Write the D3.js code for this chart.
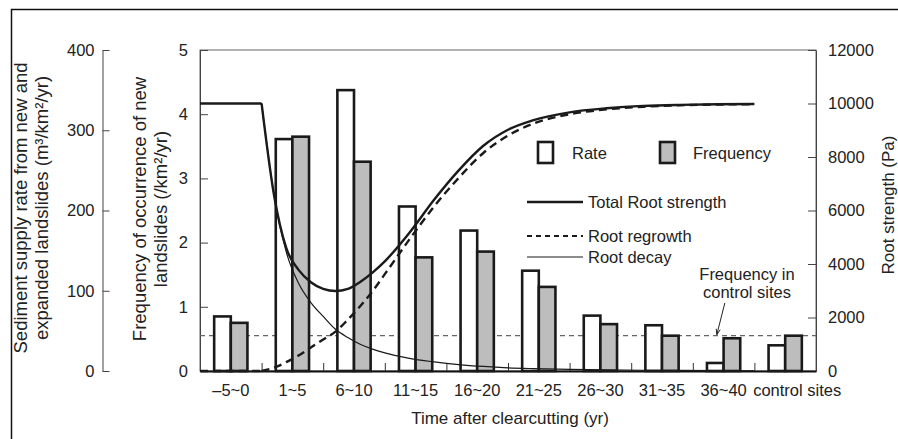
<!DOCTYPE html>
<html>
<head>
<meta charset="utf-8">
<script src="https://cdn.jsdelivr.net/npm/d3@7"></script>
<style>
  body { margin: 0; background: #fff; }
  svg text { font-family: "Liberation Sans", Arial, sans-serif; fill: #222; }
</style>
</head>
<body>
<div id="chart_div"></div>
<script>
/*****************************************************
 * Landslides after clearcutting vs. root strength   *
 *****************************************************/

/*
 * Data
 */
var categories = ['\u20135~0', '1~5', '6~10', '11~15', '16~20', '21~25', '26~30', '31~35', '36~40', 'control sites'];
// sediment supply rate (m3/km2/yr), white bars
var rateValues = [68, 289, 350, 205, 175, 125, 69, 57, 10, 32];
// frequency of new landslides (/km2/yr), grey bars
var frequencyValues = [0.75, 3.65, 3.26, 1.77, 1.86, 1.31, 0.73, 0.55, 0.51, 0.55];
var controlFrequency = 0.55;

// root strength curves (Pa) against years after clearcutting
var rootYears = [-5, 0, 1, 2, 3, 4, 5, 6, 7, 8, 9, 10, 12, 14, 16, 18, 20, 22, 25, 28, 31, 34, 37, 40];
var totalStrength = [10000, 10000, 6600, 4600, 3780, 3320, 3070, 2990, 3070, 3330, 3680, 4100, 5170, 6400, 7500, 8420, 9020, 9370, 9670, 9820, 9910, 9950, 9970, 9980];
var regrowthStrength = [0, 0, 120, 330, 580, 880, 1180, 1470, 1920, 2420, 2980, 3620, 4920, 6150, 7220, 8150, 8800, 9240, 9600, 9780, 9880, 9935, 9960, 9975];
var decayStrength = [10000, 10000, 6600, 4450, 3280, 2560, 2040, 1560, 1250, 1000, 820, 680, 470, 340, 240, 170, 120, 90, 60, 40, 28, 20, 14, 10];

var sedimentTicks = [0, 100, 200, 300, 400];
var frequencyTicks = [0, 1, 2, 3, 4, 5];
var rootTicks = [0, 2000, 4000, 6000, 8000, 10000, 12000];

/*
 * Layout
 */
var gvWidth = 898, gvHeight = 439;
var gvPlot = { left: 200, right: 816, top: 50, bottom: 371 };

var svg = d3.select('#chart_div').append('svg')
  .attr('width', gvWidth)
  .attr('height', gvHeight);

// outer border of the figure (top and left only)
svg.append('path')
  .attr('d', 'M11.5,439 L11.5,9.5 L898,9.5')
  .attr('fill', 'none')
  .attr('stroke', '#111')
  .attr('stroke-width', 1.5);

/*
 * Scales
 */
var xBand = d3.scaleBand().domain(categories).range([gvPlot.left, gvPlot.right]).padding(0);
var xYear = d3.scaleLinear().domain([-5, 45]).range([gvPlot.left, gvPlot.right]);
var yFreq = d3.scaleLinear().domain([0, 5]).range([gvPlot.bottom, gvPlot.top]);
var ySed = d3.scaleLinear().domain([0, 400]).range([gvPlot.bottom, gvPlot.top]);
var yRoot = d3.scaleLinear().domain([0, 12000]).range([gvPlot.bottom, gvPlot.top]);

// plot frame
svg.append('rect')
  .attr('x', gvPlot.left).attr('y', gvPlot.top)
  .attr('width', gvPlot.right - gvPlot.left)
  .attr('height', gvPlot.bottom - gvPlot.top)
  .attr('fill', 'none')
  .attr('stroke', '#666')
  .attr('stroke-width', 1);

/*
 * Axes
 */
function styleAxis(g, colour) {
  g.selectAll('.domain').attr('stroke', colour);
  g.selectAll('.tick line').attr('stroke', colour);
  g.selectAll('text').style('font-size', '16.5px').attr('fill', '#222');
}

var sedAxis = svg.append('g')
  .attr('transform', 'translate(102.5,0)')
  .call(d3.axisLeft(ySed).tickValues(sedimentTicks).tickFormat(d3.format('d'))
    .tickSize(-7).tickPadding(8).tickSizeOuter(0));
styleAxis(sedAxis, '#444');

var freqAxis = svg.append('g')
  .attr('transform', 'translate(' + gvPlot.left + ',0)')
  .call(d3.axisLeft(yFreq).tickValues(frequencyTicks).tickFormat(d3.format('d'))
    .tickSize(-8).tickPadding(12).tickSizeOuter(0));
styleAxis(freqAxis, '#444');

var rootAxis = svg.append('g')
  .attr('transform', 'translate(' + gvPlot.right + ',0)')
  .call(d3.axisRight(yRoot).tickValues(rootTicks).tickFormat(d3.format('d'))
    .tickSize(-8).tickPadding(12).tickSizeOuter(0));
styleAxis(rootAxis, '#444');

var xAxis = svg.append('g')
  .attr('transform', 'translate(0,' + gvPlot.bottom + ')')
  .call(d3.axisBottom(xBand).tickSize(0).tickPadding(13));
styleAxis(xAxis, '#111');
xAxis.select('.domain').attr('stroke-width', 2.2);
xAxis.selectAll('.tick text').filter(function(d) { return d == 'control sites'; }).attr('dx', 12);

// small ticks on the boundaries between periods
var xTicks = svg.append('g')
  .attr('transform', 'translate(0,' + gvPlot.bottom + ')')
  .call(d3.axisBottom(xYear).tickValues([0, 5, 10, 15, 20, 25, 30, 35, 40]).tickSize(-8).tickFormat(''));
xTicks.select('.domain').remove();
xTicks.selectAll('.tick line').attr('stroke', '#333');

/*
 * Axis titles
 */
function rotatedTitle(x, y, text, size) {
  svg.append('text')
    .attr('transform', 'translate(' + x + ',' + y + ') rotate(-90)')
    .attr('text-anchor', 'middle')
    .attr('dy', '0.35em')
    .style('font-size', size)
    .text(text);
}
rotatedTitle(21, 208, 'Sediment supply rate from new and', '18.5px');
rotatedTitle(42, 208, 'expanded landslides (m\u00b3/km\u00b2/yr)', '18.5px');
rotatedTitle(140, 209, 'Frequency of occurrence of new', '18.5px');
rotatedTitle(161, 209, 'landslides (/km\u00b2/yr)', '18.5px');
rotatedTitle(888, 205, 'Root strength (Pa)', '17px');

svg.append('text')
  .attr('x', (gvPlot.left + gvPlot.right) / 2 + 2)
  .attr('y', 418)
  .attr('dy', '0.35em')
  .attr('text-anchor', 'middle')
  .style('font-size', '17px')
  .text('Time after clearcutting (yr)');

/*
 * Control frequency line
 */
svg.append('line')
  .attr('x1', gvPlot.left).attr('x2', gvPlot.right)
  .attr('y1', yFreq(controlFrequency)).attr('y2', yFreq(controlFrequency))
  .attr('stroke', '#666')
  .attr('stroke-width', 1.2)
  .attr('stroke-dasharray', '5,4');

/*
 * Bars
 */
var barW = xBand.bandwidth() * 0.27;
var barData = categories.map(function(c, i) {
  return { cat: c, rate: rateValues[i], freq: frequencyValues[i] };
});

svg.selectAll('.rateBar')
  .data(barData)
  .enter()
  .append('rect')
  .attr('class', 'rateBar')
  .attr('x', function(d) { return xBand(d.cat) + xBand.bandwidth() / 2 - barW; })
  .attr('y', function(d) { return ySed(d.rate); })
  .attr('width', barW)
  .attr('height', function(d) { return ySed(0) - ySed(d.rate); })
  .attr('fill', '#fff')
  .attr('stroke', '#1a1a1a')
  .attr('stroke-width', 2.6);

svg.selectAll('.freqBar')
  .data(barData)
  .enter()
  .append('rect')
  .attr('class', 'freqBar')
  .attr('x', function(d) { return xBand(d.cat) + xBand.bandwidth() / 2; })
  .attr('y', function(d) { return yFreq(d.freq); })
  .attr('width', barW)
  .attr('height', function(d) { return yFreq(0) - yFreq(d.freq); })
  .attr('fill', '#bdbdbd')
  .attr('stroke', '#1a1a1a')
  .attr('stroke-width', 2.6);

/*
 * Root strength curves
 */
function drawCurve(values, width, dash) {
  var pts = rootYears.map(function(t, i) { return [t, values[i]]; });
  var before = pts.filter(function(p) { return p[0] <= 0; });
  var after = pts.filter(function(p) { return p[0] >= 0; });
  var flat = d3.line().x(function(p) { return xYear(p[0]); }).y(function(p) { return yRoot(p[1]); });
  var smooth = d3.line().curve(d3.curveMonotoneX).x(function(p) { return xYear(p[0]); }).y(function(p) { return yRoot(p[1]); });
  [flat(before), smooth(after)].forEach(function(d) {
    svg.append('path')
      .attr('d', d)
      .attr('fill', 'none')
      .attr('stroke', '#1a1a1a')
      .attr('stroke-width', width)
      .attr('stroke-dasharray', dash);
  });
}
drawCurve(decayStrength, 1.2, null);
drawCurve(regrowthStrength, 2.4, '8,5');
drawCurve(totalStrength, 2.4, null);

/*
 * Legend
 */
var lgFont = '16.5px';

svg.append('rect').attr('x', 538).attr('y', 142).attr('width', 15).attr('height', 21)
  .attr('fill', '#fff').attr('stroke', '#1a1a1a').attr('stroke-width', 2.6);
svg.append('text').attr('x', 572).attr('y', 153).attr('dy', '0.35em').style('font-size', lgFont).text('Rate');

svg.append('rect').attr('x', 660).attr('y', 142).attr('width', 15).attr('height', 21)
  .attr('fill', '#bdbdbd').attr('stroke', '#1a1a1a').attr('stroke-width', 2.6);
svg.append('text').attr('x', 693).attr('y', 153).attr('dy', '0.35em').style('font-size', lgFont).text('Frequency');

var lgLines = [
  { label: 'Total Root strength', y: 202, width: 2.4, dash: null },
  { label: 'Root regrowth', y: 236, width: 2, dash: '5,4' },
  { label: 'Root decay', y: 257, width: 1.2, dash: null }
];
lgLines.forEach(function(l) {
  svg.append('line')
    .attr('x1', 527).attr('x2', 583).attr('y1', l.y).attr('y2', l.y)
    .attr('stroke', '#1a1a1a').attr('stroke-width', l.width).attr('stroke-dasharray', l.dash);
  svg.append('text').attr('x', 588).attr('y', l.y).attr('dy', '0.35em').style('font-size', lgFont).text(l.label);
});

/*
 * Annotation: frequency in control sites
 */
svg.append('text').attr('x', 747).attr('y', 274).attr('dy', '0.35em').attr('text-anchor', 'middle')
  .style('font-size', lgFont).text('Frequency in');
svg.append('text').attr('x', 747).attr('y', 292).attr('dy', '0.35em').attr('text-anchor', 'middle')
  .style('font-size', lgFont).text('control sites');

var ax1 = xYear(37.6), ay1 = yFreq(1.06), ax2 = xYear(36.95), ay2 = yFreq(controlFrequency) - 1;
svg.append('line')
  .attr('x1', ax1).attr('y1', ay1).attr('x2', ax2).attr('y2', ay2)
  .attr('stroke', '#222').attr('stroke-width', 1);
var ang = Math.atan2(ay2 - ay1, ax2 - ax1);
svg.append('path')
  .attr('d', 'M' + (ax2 - 6 * Math.cos(ang - 0.35)) + ',' + (ay2 - 6 * Math.sin(ang - 0.35)) +
             ' L' + ax2 + ',' + ay2 +
             ' L' + (ax2 - 6 * Math.cos(ang + 0.35)) + ',' + (ay2 - 6 * Math.sin(ang + 0.35)))
  .attr('fill', 'none')
  .attr('stroke', '#222')
  .attr('stroke-width', 1);
</script>
</body>
</html>
